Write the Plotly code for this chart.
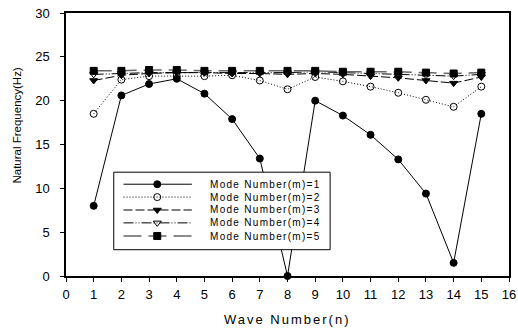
import plotly.graph_objects as go

wave = list(range(1, 16))
mode1 = [8.0, 20.6, 21.9, 22.5, 20.8, 17.9, 13.4, 0.0, 20.0, 18.3, 16.1, 13.3, 9.4, 1.5, 18.5]
mode2 = [18.5, 22.4, 22.8, 22.8, 22.8, 22.9, 22.3, 21.3, 22.7, 22.2, 21.6, 20.9, 20.1, 19.3, 21.6]
mode3 = [22.3, 22.9, 23.1, 23.2, 23.2, 23.1, 23.1, 23.0, 23.1, 23.0, 22.8, 22.6, 22.3, 22.0, 22.7]
mode4 = [23.0, 23.1, 23.2, 23.2, 23.2, 23.2, 23.2, 23.2, 23.3, 23.2, 23.1, 23.0, 22.9, 22.8, 23.0]
mode5 = [23.4, 23.4, 23.5, 23.5, 23.4, 23.4, 23.4, 23.4, 23.4, 23.3, 23.3, 23.3, 23.2, 23.1, 23.2]
names = ["Mode Number(m)=1", "Mode Number(m)=2", "Mode Number(m)=3",
         "Mode Number(m)=4", "Mode Number(m)=5"]
x_ticks = list(range(0, 17))
y_ticks = [0, 5, 10, 15, 20, 25, 30]

FONT = "Arial, Liberation Sans, sans-serif"
styles = [
    dict(dash="solid", color="black", width=1, symbol="circle"),
    dict(dash="1px,2px", color="black", width=1, symbol="circle-open"),
    dict(dash="9px,3px", color="black", width=1, symbol="triangle-down"),
    dict(dash="10px,2px,1px,2px,1px,2px", color="black", width=1, symbol="triangle-down-open"),
    dict(dash="18px,7px", color="#666666", width=1.5, symbol="square"),
]

fig = go.Figure()
for vals, name, st in zip([mode1, mode2, mode3, mode4, mode5], names, styles):
    fig.add_trace(go.Scatter(
        x=wave, y=vals, name=name, mode="lines+markers", showlegend=False,
        line=dict(color=st["color"], width=st["width"], dash=st["dash"]),
        marker=dict(symbol=st["symbol"], size=7, color="black",
                    line=dict(color="black", width=1)),
        cliponaxis=False,
    ))

# ---- hand-drawn legend box (paper-like overlay axes, 0..1) ----
box_x = [0.1078, 0.5962]
box_y = [0.100, 0.3947]
row_y = [0.349, 0.300, 0.251, 0.202, 0.152]
seg_x = [0.1298, 0.2842]
mark_x = 0.206
text_x = 0.3203

fig.add_trace(go.Scatter(
    x=[box_x[0], box_x[1], box_x[1], box_x[0], box_x[0]],
    y=[box_y[0], box_y[0], box_y[1], box_y[1], box_y[0]],
    xaxis="x2", yaxis="y2", mode="lines", fill="toself", fillcolor="white",
    line=dict(color="black", width=1), showlegend=False, hoverinfo="skip"))
for ry, st in zip(row_y, styles):
    fig.add_trace(go.Scatter(
        x=[seg_x[0], seg_x[1]], y=[ry, ry], xaxis="x2", yaxis="y2", mode="lines",
        line=dict(color=st["color"], width=st["width"], dash=st["dash"]),
        showlegend=False, hoverinfo="skip", cliponaxis=False))
    fig.add_trace(go.Scatter(
        x=[mark_x], y=[ry], xaxis="x2", yaxis="y2", mode="markers",
        marker=dict(symbol=st["symbol"], size=7, color="black",
                    line=dict(color="black", width=1)),
        showlegend=False, hoverinfo="skip", cliponaxis=False))

annotations = []
for ry, name in zip(row_y, names):
    annotations.append(dict(
        x=text_x, y=ry, xref="paper", yref="paper", xanchor="left", yanchor="middle",
        text='<span style="letter-spacing:1.3px">' + name + '</span>', showarrow=False,
        font=dict(family=FONT, size=10, color="black")))
annotations.append(dict(
    x=0.4985, y=0, xref="paper", yref="paper", xanchor="center", yanchor="middle",
    yshift=-43, showarrow=False,
    text='<span style="letter-spacing:2px">Wave Number(n)</span>',
    font=dict(family=FONT, size=13, color="black")))
annotations.append(dict(
    x=0, y=0.572, xref="paper", yref="paper", xanchor="center", yanchor="middle",
    xshift=-49, textangle=-90, showarrow=False, text="Natural Frequency(Hz)",
    font=dict(family=FONT, size=11.5, color="black")))

axis_common = dict(showline=True, linecolor="black", linewidth=1.5, mirror=True,
                   ticks="outside", ticklen=4, tickcolor="black", showgrid=False,
                   zeroline=False, ticklabeloverflow="allow",
                   tickfont=dict(family=FONT, size=13, color="black"))
fig.update_layout(
    xaxis=dict(range=[0, 16], tickvals=x_ticks, ticktext=[str(v) for v in x_ticks],
               ticklabelstandoff=2, **axis_common),
    yaxis=dict(range=[0, 30], tickvals=y_ticks, ticktext=[str(v) for v in y_ticks],
               ticklabelstandoff=8, **axis_common),
    xaxis2=dict(overlaying="x", range=[0, 1], visible=False, fixedrange=True),
    yaxis2=dict(overlaying="y", range=[0, 1], visible=False, fixedrange=True),
    width=518, height=332,
    margin=dict(l=66, r=9, t=13, b=56, autoexpand=False),
    paper_bgcolor="white", plot_bgcolor="white",
    showlegend=False,
    annotations=annotations,
)
fig.write_html("out.html",
               config={"displayModeBar": False},
               post_script="document.body.style.margin='0';"
                           "document.body.style.overflow='hidden';")
